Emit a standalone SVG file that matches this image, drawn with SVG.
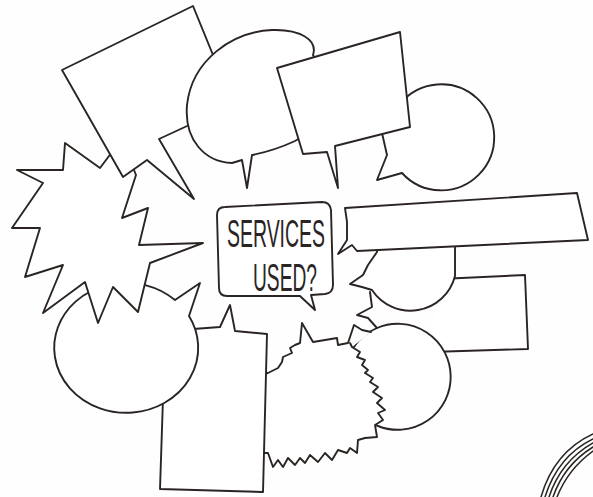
<svg xmlns="http://www.w3.org/2000/svg" width="593" height="497" viewBox="0 0 593 497">
<style>
.s{fill:#fff;stroke:#2a2523;stroke-width:1.9;stroke-linejoin:round;stroke-linecap:round}
.f{fill:#fff;stroke:none}
.l{fill:none;stroke:#2a2523;stroke-width:1.9;stroke-linejoin:round;stroke-linecap:round}
.sc{fill:none;stroke:#2a2523;stroke-width:1.5;stroke-linecap:round}
.t{font-family:'Liberation Sans',Arial,sans-serif;font-weight:400;font-size:39px;fill:#2a2523}
</style>
<rect width="593" height="497" fill="#fefefe"/>
<g id="rect-right">
<path class="s" d="M440,279 L525,275 L528,349 L430,352"/>
</g>
<g id="circle-right">
<path class="s" d="M377,328 A53,53 0 1 1 378,426 A53,53 0 0 1 377,328 Z"/>
<path class="l" d="M370,292 L372,307 L357,315 L368,318 L377,328"/>
</g>
<g id="star-bottom">
<path class="f" d="M255,373 L268,373 L278,368 L282,362 L283,357 L292,353 L290,348 L295,345 L300,343 L302,323 L313,342 L337,338 L338,345 L348,343 L354,325 L371,332 L352,347 L360,352 L357,357 L365,360 L362,365 L368,370 L365,373 L373,378 L370,382 L378,387 L373,392 L382,398 L377,403 L385,410 L378,413 L383,420 L375,425 L377,437 L365,438 L358,440 L357,453 L350,448 L347,453 L338,450 L332,460 L325,453 L318,462 L310,455 L305,463 L300,458 L295,465 L288,458 L283,467 L278,460 L273,467 L268,453 L255,453 Z"/>
<path class="l" d="M262,374 L268,373 L278,368 L282,362 L283,357 L292,353 L290,348 L295,345 L300,343 L302,323 L313,342 L337,338 L338,345 L348,343 L354,325 L362,330 L371,332"/>
<path class="l" d="M350,343 L352,347 L360,352 L357,357 L365,360 L362,365 L368,370 L365,373 L373,378 L370,382 L378,387 L373,392 L382,398 L377,403 L385,410 L378,413 L383,420 L375,425 L377,437 L365,438 L358,440 L357,453 L350,448 L347,453 L338,450 L332,460 L325,453 L318,462 L310,455 L305,463 L300,458 L295,465 L288,458 L283,467 L278,460 L273,467 L268,453 L262,453"/>
</g>
<g id="rect-tall">
<path class="s" d="M180,330 L220,327 L230,305 L235,331 L267,334 L263,492 L160,489 L163,398 L180,380 Z"/>
</g>
<g id="circle-left">
<path class="s" d="M175,300 L200,283 L189,316 A72,65 0 1 1 175,300 Z"/>
</g>
<g id="star-left">
<path class="s" d="M112,152 L100,168 L65,143 L63,170 L17,170 L43,183 L12,228 L40,228 L25,277 L63,265 L43,313 L85,282 L98,323 L113,287 L138,312 L150,263 L203,243 L139,245 L148,208 L122,218 L136,175 L130,160 Z"/>
</g>
<g id="square-topleft">
<path class="s" d="M62,70 L193,6 L213,55 L236,110 L200,120 L159,139 L194,199 L147,160 L123,177 Z"/>
</g>
<g id="oval-top">
<path class="s" d="M313,55 C318,40 300,29 272,30 C232,32 192,60 187,105 C184,140 205,162 232,163 L242,160 L247,188 L252,155 C268,152 282,147 295,141 C325,125 330,80 313,55 Z"/>
</g>
<g id="circle-topright">
<path class="s" d="M400,104 A53,53 0 1 1 402,173 L377,180 L387,155 L382,133 Z"/>
</g>
<g id="square-top">
<path class="s" d="M277,68 L400,32 L410,127 L335,146 L338,188 L327,152 L303,154 Z"/>
</g>
<g id="semicircle">
<path class="s" d="M377,248 L377,252 L368,265 L363,275 L350,284 L362,287 L372,290 A46,46 0 0 0 455,276 L455,245 Z"/>
</g>
<g id="bar">
<path class="s" d="M345,208 L577,193 L588,240 L357,251 L352,245 L338,254 L347,240 L347,222 Z"/>
</g>
<g id="center">
<path class="s" d="M225,207 Q217,207 217,215 L219,288 Q219,296 227,296 L300,296 L315,310 L311,295 L325,294 Q333,293 333,285 L331,210 Q330,202 322,202 Z"/>
<text class="t"><tspan x="227" y="247" textLength="98" lengthAdjust="spacingAndGlyphs">SERVICES</tspan><tspan x="253" y="291" textLength="64" lengthAdjust="spacingAndGlyphs">USED?</tspan></text>
</g>
<g id="scribble">
<path class="sc" d="M541,497 Q554,452 593,434"/>
<path class="sc" d="M545,497 Q558,456 593,439"/>
<path class="sc" d="M549,497 Q561,461 593,443"/>
<path class="sc" d="M553,497 Q564,465 593,447" stroke-width="2.4"/>
<path class="sc" d="M557,497 Q568,469 593,451"/>
</g>
</svg>
